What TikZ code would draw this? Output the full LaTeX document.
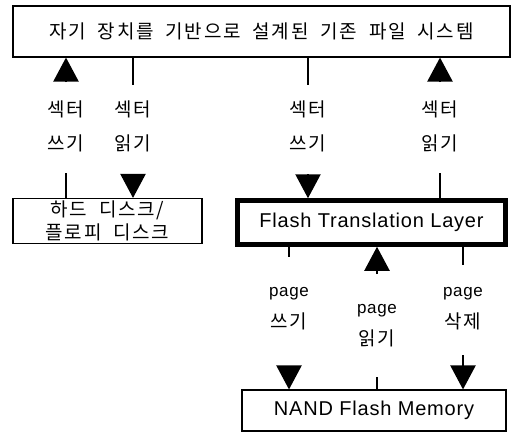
\documentclass[tikz,border=0pt]{standalone}
\usepackage{fontspec}
\setmainfont{Liberation Sans}
\newfontfamily\lat{Liberation Sans}[LetterSpace=4]
\newfontfamily\kr{Noto Sans CJK KR}[LetterSpace=9, WordSpace=2]
\usetikzlibrary{arrows.meta}
\begin{document}
\begin{tikzpicture}[x=1pt,y=-1pt,
  box/.style={draw, line width=1.1pt, inner sep=0pt, align=center},
  thickbox/.style={draw, line width=4.5pt, inner sep=0pt, align=center},
  kor/.style={font=\kr\fontsize{19}{34}\selectfont, align=center, inner sep=0pt},
  mix/.style={font=\fontsize{17}{32}\selectfont, align=center, inner sep=0pt},
  conn/.style={line width=2.2pt},
  tip/.style={line width=2.2pt, -{Triangle[length=24pt,width=25pt]}}]
\useasboundingbox (0,0) rectangle (515,434);
% boxes
\node[box, minimum width=497pt, minimum height=51pt, font=\kr\fontsize{19}{20}\selectfont]
  (fs) at (261.5,31.5) {자기 장치를 기반으로 설계된 기존 파일 시스템};
\node[box, minimum width=189pt, minimum height=45pt, font=\kr\fontsize{19}{23}\selectfont]
  (hdd) at (107.5,221) {하드 디스크/\\플로피 디스크};
\node[thickbox, minimum width=268pt, minimum height=44pt, font=\lat\fontsize{20}{24}\selectfont]
  (ftl) at (371.5,222.5) {Flash Translation Layer};
\node[box, minimum width=264pt, minimum height=41pt, font=\lat\fontsize{20}{24}\selectfont]
  (nand) at (374,410.5) {NAND Flash Memory};
% labels
\node[kor] (l1) at (66,126) {섹터\\쓰기};
\node[kor] (l2) at (133,126) {섹터\\읽기};
\node[kor] (l3) at (308,126) {섹터\\쓰기};
\node[kor] (l4) at (440,126) {섹터\\읽기};
\node[mix] (l5) at (289,309) {{\lat page}\\{\kr\fontsize{19}{32}\selectfont 쓰기}};
\node[mix] (l6) at (377,326) {{\lat page}\\{\kr\fontsize{19}{32}\selectfont 읽기}};
\node[mix] (l7) at (463,309) {{\lat page}\\{\kr\fontsize{19}{32}\selectfont 삭제}};
% connector ends
\coordinate (c1) at (66,82);   \coordinate (d1) at (66,173);
\coordinate (c2) at (133,85);  \coordinate (d2) at (133,174);
\coordinate (c3) at (308,85);  \coordinate (d3) at (308,174);
\coordinate (c4) at (440,82);  \coordinate (d4) at (440,173);
\coordinate (c5) at (289,257); \coordinate (d5) at (289,366);
\coordinate (c6) at (377,274); \coordinate (d6) at (377,377);
\coordinate (c7) at (463,265); \coordinate (d7) at (463,355);
% column 1: sector write (HDD -> FS)
\draw[tip] (c1) -- (fs.south -| c1);
\draw[conn] (d1) -- (hdd.north -| d1);
% column 2: sector read (FS -> HDD)
\draw[conn] (fs.south -| c2) -- (c2);
\draw[tip] (d2) -- (hdd.north -| d2);
% column 3: sector write (FS -> FTL)
\draw[conn] (fs.south -| c3) -- (c3);
\draw[tip] (d3) -- (ftl.north -| d3);
% column 4: sector read (FTL -> FS)
\draw[tip] (c4) -- (fs.south -| c4);
\draw[conn] (d4) -- (ftl.north -| d4);
% column 5: page write
\draw[conn] (ftl.south -| c5) -- (c5);
\draw[tip] (d5) -- (nand.north -| d5);
% column 6: page read
\draw[tip] (c6) -- (ftl.south -| c6);
\draw[conn] (d6) -- (nand.north -| d6);
% column 7: page erase
\draw[conn] (ftl.south -| c7) -- (c7);
\draw[tip] (d7) -- (nand.north -| d7);
\end{tikzpicture}
\end{document}
